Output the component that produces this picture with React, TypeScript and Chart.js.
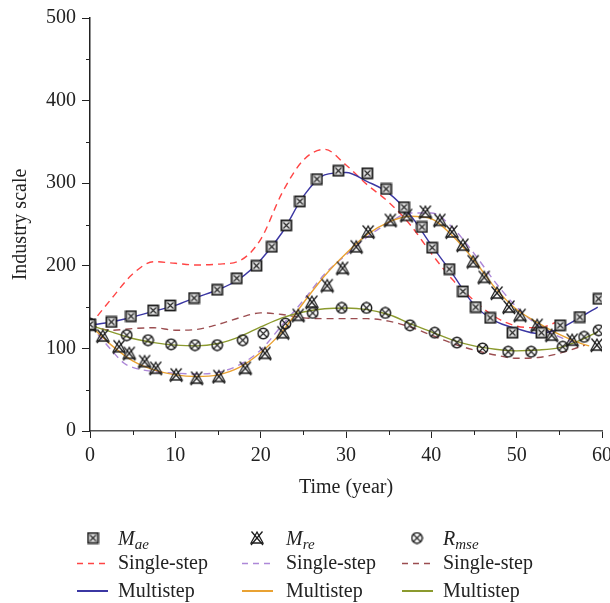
import React, { useEffect, useRef } from 'react';
import { Chart, registerables } from 'chart.js';
Chart.register(...registerables);

const FONT = "'Liberation Serif', 'DejaVu Serif', serif";

// Marker series
const maeT = [0, 2.5, 4.8, 7.4, 9.4, 12.2, 14.9, 17.2, 19.5, 21.3, 23.0, 24.6, 26.6, 29.1, 32.5, 34.7, 36.8, 38.9, 40.1, 42.1, 43.7, 45.2, 46.9, 49.5, 52.9, 55.1, 57.4, 59.6];
const maeV = [129, 132, 139, 146, 152, 161, 171, 185, 200, 223, 249, 278, 305, 315, 312, 293, 271, 247, 222, 196, 169, 150, 137, 119, 119, 128, 138, 160];

const mreT = [0, 1.5, 3.4, 4.6, 6.4, 7.7, 10.1, 12.5, 15.1, 18.2, 20.5, 22.6, 24.4, 26.0, 27.8, 29.6, 31.2, 32.6, 35.2, 37.1, 39.3, 41.0, 42.4, 43.7, 44.9, 46.2, 47.7, 49.1, 50.4, 52.4, 54.1, 56.5, 59.4];
const mreV = [128, 115, 102, 94, 84, 76, 68, 64, 66, 76, 94, 119, 140, 156, 176, 197, 223, 241, 255, 261, 265, 255, 241, 225, 205, 186, 167, 150, 140, 128, 116, 110, 104];

const rmseT = [0, 4.3, 6.8, 9.5, 12.3, 14.9, 17.9, 20.3, 22.9, 26.1, 29.5, 32.4, 34.6, 37.5, 40.4, 43.0, 46.0, 49.0, 51.7, 55.4, 57.9, 59.6];
const rmseV = [130, 116, 110, 105, 104, 104, 110, 118, 130, 143, 149, 149, 143, 128, 119, 107, 100, 96, 96, 102, 114, 122];

// Curves
const maeSingleT = [0, 2.5, 5, 7.5, 10, 12.5, 15, 17.5, 20, 22.5, 25, 27.5, 30, 32.5, 35, 37.5, 40, 42.5, 45, 47.5, 50, 52.5, 55];
const maeSingleV = [128, 160, 190, 205, 203, 201, 202, 206, 232, 288, 328, 341, 322, 298, 277, 250, 215, 183, 158, 138, 127, 125, 133];

const maeMultiT = [0, 2.5, 5, 7.5, 10, 12.5, 15, 17.5, 20, 22.5, 25, 27.5, 30, 32.5, 35, 37.5, 40, 42.5, 45, 47.5, 50, 52.5, 55, 57.5, 59.5];
const maeMultiV = [128, 132, 138, 145, 152, 162, 171, 184, 207, 240, 284, 310, 313, 302, 288, 262, 225, 190, 153, 133, 124, 118, 124, 138, 150];

const mreSingleT = [0, 1.5, 2.5, 4, 5, 7.5, 10, 12.5, 15, 17.5, 20, 22.5, 25, 27.5, 30, 32.5, 35, 37.5, 40, 42.5, 45, 47.5, 50, 52.5, 55, 57];
const mreSingleV = [128, 110, 98, 82, 77, 72, 70, 69, 71, 80, 98, 128, 158, 190, 213, 235, 252, 264, 264, 246, 215, 180, 150, 128, 114, 106];

const mreMultiT = [0, 2.5, 5, 7.5, 10, 12.5, 15, 17.5, 20, 22.5, 25, 27.5, 30, 32.5, 35, 37.5, 40, 42.5, 45, 47.5, 50, 52.5, 55, 57.5, 58.5];
const mreMultiV = [128, 104, 85, 74, 68, 66, 68, 77, 95, 120, 155, 188, 215, 238, 253, 260, 257, 236, 207, 173, 147, 131, 117, 106, 103];

const rmseSingleT = [0, 2.5, 5, 7.5, 10, 12.5, 15, 17.5, 20, 22.5, 25, 27.5, 30, 32.5, 35, 37.5, 40, 42.5, 45, 47.5, 50, 52.5, 55, 58];
const rmseSingleV = [128, 122, 124, 125, 122, 123, 129, 137, 143, 141, 137, 136, 136, 136, 133, 126, 116, 106, 98, 92, 88, 89, 94, 104];

const rmseMultiT = [0, 2.5, 5, 7.5, 10, 12.5, 15, 17.5, 20, 22.5, 25, 27.5, 30, 32.5, 35, 37.5, 40, 42.5, 45, 47.5, 50, 52.5, 55, 57.5, 59.5];
const rmseMultiV = [128, 120, 112, 107, 104, 103, 106, 114, 126, 137, 144, 148, 149, 147, 141, 130, 120, 110, 103, 99, 97, 98, 101, 110, 120];

const xTicks = [0, 10, 20, 30, 40, 50, 60];
const xMinor = [5, 15, 25, 35, 45, 55];
const yMinor = [50, 150, 250, 350, 450];

const C_RED = '#ff4545';
const C_PURPLE = '#ad88d8';
const C_BROWN = '#9b4d50';
const C_BLUE = '#3b37a3';
const C_ORANGE = '#e9a233';
const C_OLIVE = '#8b9a2e';

const pts = (t: number[], v: number[]) => t.map((x, i) => ({ x, y: v[i] }));

function makeMarker(kind: 'square' | 'tri' | 'circle'): HTMLCanvasElement {
  const c = document.createElement('canvas');
  const s = kind === 'tri' ? 16 : 13;
  c.width = s; c.height = s;
  const g = c.getContext('2d')!;
  g.strokeStyle = '#1e1e1e';
  if (kind === 'square') {
    g.fillStyle = '#e6e6e6';
    g.fillRect(1.5, 1.5, 10, 10);
    g.lineWidth = 1.8;
    g.strokeRect(1.5, 1.5, 10, 10);
    g.lineWidth = 1.1;
    g.beginPath();
    g.moveTo(3.5, 3.5); g.lineTo(9.5, 9.5);
    g.moveTo(9.5, 3.5); g.lineTo(3.5, 9.5);
    g.stroke();
  } else if (kind === 'circle') {
    g.lineWidth = 1.5;
    g.beginPath();
    g.arc(6.5, 6.5, 5.2, 0, Math.PI * 2);
    g.stroke();
    g.lineWidth = 1.1;
    g.beginPath();
    g.moveTo(3.0, 3.0); g.lineTo(10.0, 10.0);
    g.moveTo(10.0, 3.0); g.lineTo(3.0, 10.0);
    g.stroke();
  } else {
    g.lineWidth = 1.3;
    g.beginPath();
    g.moveTo(8, 2); g.lineTo(14, 13); g.lineTo(2, 13); g.closePath();
    g.stroke();
    g.beginPath();
    g.moveTo(2.5, 1.5); g.lineTo(14, 15);
    g.moveTo(13.5, 1.5); g.lineTo(2, 15);
    g.stroke();
  }
  return c;
}

export default function App() {
  const ref = useRef<HTMLCanvasElement | null>(null);
  useEffect(() => {
    if (!ref.current) return;
    const mSq = makeMarker('square');
    const mTri = makeMarker('tri');
    const mCi = makeMarker('circle');

    const extras = {
      id: 'extras',
      afterDraw(chart: any) {
        const ctx = chart.ctx as CanvasRenderingContext2D;
        const xs = chart.scales.x, ys = chart.scales.y;
        const ca = chart.chartArea;
        ctx.save();
        ctx.strokeStyle = '#222';
        ctx.lineWidth = 1;
        for (const v of yMinor) {
          const py = Math.round(ys.getPixelForValue(v)) + 0.5;
          ctx.beginPath(); ctx.moveTo(ca.left - 4, py); ctx.lineTo(ca.left, py); ctx.stroke();
        }
        for (const v of xMinor) {
          const px = Math.round(xs.getPixelForValue(v)) + 0.5;
          ctx.beginPath(); ctx.moveTo(px, ca.bottom); ctx.lineTo(px, ca.bottom + 4); ctx.stroke();
        }
        // Legend
        const cols = [
          { mk: mSq, mx: 93, lx: 77, tx: 118, main: 'M', sub: 'ae', single: C_RED, multi: C_BLUE },
          { mk: mTri, mx: 257, lx: 242, tx: 286, main: 'M', sub: 're', single: C_PURPLE, multi: C_ORANGE },
          { mk: mCi, mx: 417, lx: 402, tx: 443, main: 'R', sub: 'mse', single: C_BROWN, multi: C_OLIVE },
        ];
        const rowMark = 538, rowS = 563, rowM = 591;
        ctx.fillStyle = '#222';
        ctx.textBaseline = 'alphabetic';
        ctx.textAlign = 'left';
        for (const c of cols) {
          ctx.drawImage(c.mk, c.mx - c.mk.width / 2, rowMark - c.mk.height / 2);
          ctx.font = `italic 20px ${FONT}`;
          ctx.fillText(c.main, c.tx, 545);
          const w = ctx.measureText(c.main).width;
          ctx.font = `italic 15px ${FONT}`;
          ctx.fillText(c.sub, c.tx + w, 549);
          ctx.font = `20px ${FONT}`;
          ctx.fillText('Single-step', c.tx, 569);
          ctx.fillText('Multistep', c.tx, 597);
          ctx.lineWidth = 1.5;
          ctx.strokeStyle = c.single;
          ctx.setLineDash([6, 5]);
          ctx.beginPath(); ctx.moveTo(c.lx, rowS + 0.5); ctx.lineTo(c.lx + 31, rowS + 0.5); ctx.stroke();
          ctx.setLineDash([]);
          ctx.strokeStyle = c.multi;
          ctx.lineWidth = 2;
          ctx.beginPath(); ctx.moveTo(c.lx, rowM); ctx.lineTo(c.lx + 31, rowM); ctx.stroke();
        }
        ctx.restore();
      },
    };

    const line = (t: number[], v: number[], color: string, dashed: boolean) => ({
      type: 'line' as const,
      data: pts(t, v),
      borderColor: color,
      backgroundColor: color,
      borderWidth: 1.4,
      borderDash: dashed ? [7, 5] : [],
      pointRadius: 0,
      fill: false,
      cubicInterpolationMode: 'monotone' as const,
    });
    const marks = (t: number[], v: number[], img: HTMLCanvasElement) => ({
      type: 'line' as const,
      data: pts(t, v),
      showLine: false,
      pointStyle: img,
      pointRadius: 6,
      borderColor: '#222',
      backgroundColor: '#222',
    });

    const chart = new Chart(ref.current, {
      type: 'line',
      data: {
        datasets: [
          marks(maeT, maeV, mSq),
          marks(mreT, mreV, mTri),
          marks(rmseT, rmseV, mCi),
          line(maeMultiT, maeMultiV, C_BLUE, false),
          line(mreMultiT, mreMultiV, C_ORANGE, false),
          line(rmseMultiT, rmseMultiV, C_OLIVE, false),
          line(maeSingleT, maeSingleV, C_RED, true),
          line(mreSingleT, mreSingleV, C_PURPLE, true),
          line(rmseSingleT, rmseSingleV, C_BROWN, true),
        ] as any,
      },
      options: {
        responsive: false,
        animation: false,
        layout: { padding: { top: 18, right: 8, bottom: 100, left: 0 } },
        plugins: { legend: { display: false }, tooltip: { enabled: false } },
        scales: {
          x: {
            type: 'linear',
            min: 0,
            max: 60,
            afterBuildTicks: (s: any) => { s.ticks = xTicks.map((value) => ({ value })); },
            ticks: { color: '#222', font: { family: FONT, size: 20 }, padding: 6, maxRotation: 0, autoSkip: false },
            grid: { drawOnChartArea: false, tickLength: 7, color: '#222', tickColor: '#222' },
            border: { color: '#555', width: 1.5 },
            title: { display: true, text: 'Time (year)', color: '#222', font: { family: FONT, size: 20 }, padding: { top: 0, bottom: 3 } },
            afterFit: (s: any) => { s.height = 72; s.paddingLeft = 0; s.paddingRight = 0; },
          },
          y: {
            type: 'linear',
            min: 0,
            max: 500,
            ticks: { stepSize: 100, color: '#222', font: { family: FONT, size: 20 }, padding: 6 },
            grid: { drawOnChartArea: false, tickLength: 8, color: '#222', tickColor: '#222' },
            border: { color: '#222', width: 1.5 },
            title: { display: true, text: 'Industry scale', color: '#222', font: { family: FONT, size: 20 }, padding: { top: 9, bottom: 0 } },
            afterFit: (s: any) => { s.width = 90; s.paddingTop = 0; s.paddingBottom = 0; },
          },
        },
      } as any,
      plugins: [extras],
    });
    return () => chart.destroy();
  }, []);

  return (
    <div style={{ position: 'fixed', left: 0, top: 0, width: 610, height: 603, background: '#fff' }}>
      <canvas ref={ref} width={610} height={603} style={{ display: 'block' }} />
    </div>
  );
}
